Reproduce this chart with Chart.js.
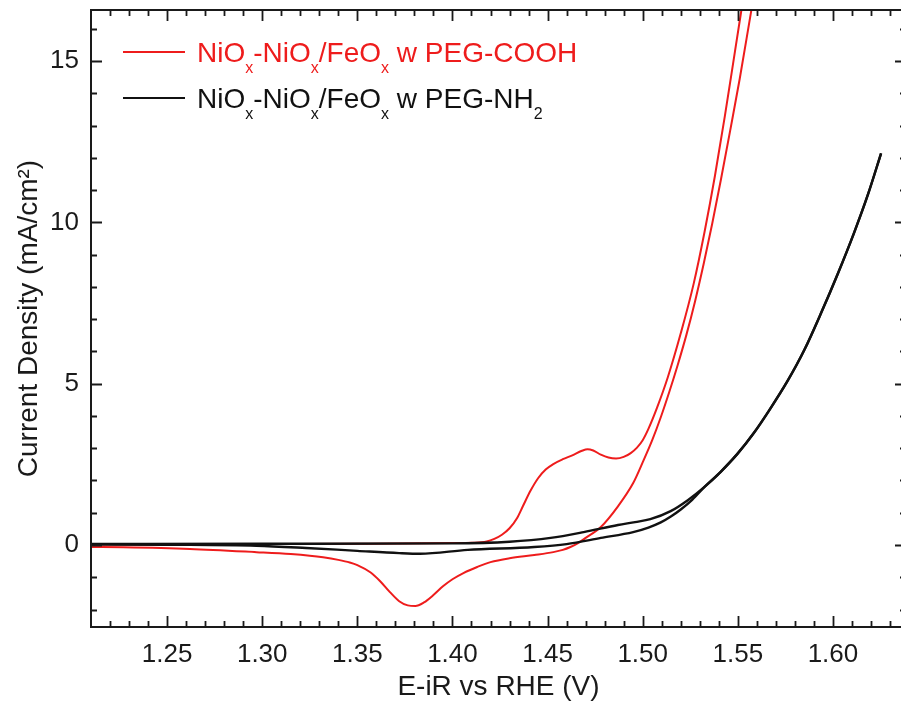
<!DOCTYPE html>
<html>
<head>
<meta charset="utf-8">
<script src="https://cdn.jsdelivr.net/npm/chart.js@4.4.1/dist/chart.umd.min.js"></script>
<style>
  html, body { margin: 0; padding: 0; background: #fff; overflow: hidden; width: 901px; height: 704px; }
  canvas { display: block; }
</style>
</head>
<body>
<canvas id="cv" width="907" height="704"></canvas>
<script>
// Cyclic voltammograms: potential E-iR (V vs RHE) and current density (mA/cm²)

// NiOx-NiOx/FeOx with PEG-COOH, anodic sweep
const coohForwardE = [1.210, 1.250, 1.300, 1.350, 1.400, 1.410, 1.418, 1.422, 1.426, 1.430, 1.434, 1.437, 1.441, 1.445, 1.449, 1.453, 1.458, 1.463, 1.468, 1.471, 1.474, 1.478, 1.482, 1.486, 1.490, 1.4937, 1.497, 1.500, 1.503, 1.5075, 1.5132, 1.520, 1.5268, 1.5325, 1.5380, 1.5432, 1.5485, 1.5530];
const coohForwardJ = [0.02, 0.02, 0.03, 0.04, 0.06, 0.07, 0.11, 0.19, 0.32, 0.52, 0.84, 1.20, 1.68, 2.07, 2.34, 2.51, 2.66, 2.78, 2.92, 2.97, 2.93, 2.80, 2.71, 2.68, 2.73, 2.85, 3.02, 3.25, 3.60, 4.25, 5.20, 6.56, 8.10, 9.70, 11.45, 13.30, 15.30, 17.00];
// NiOx-NiOx/FeOx with PEG-COOH, cathodic sweep
const coohReverseE = [1.5595, 1.5568, 1.5510, 1.5460, 1.5412, 1.5365, 1.5320, 1.5275, 1.5230, 1.5184, 1.5140, 1.5095, 1.5050, 1.5005, 1.495, 1.487, 1.478, 1.470, 1.466, 1.462, 1.458, 1.453, 1.443, 1.430, 1.420, 1.413, 1.406, 1.400, 1.395, 1.390, 1.385, 1.3805, 1.3765, 1.372, 1.367, 1.362, 1.357, 1.350, 1.346, 1.340, 1.332, 1.325, 1.315, 1.297, 1.262, 1.227, 1.210];
const coohReverseJ = [17.40, 16.47, 14.45, 12.85, 11.35, 9.95, 8.70, 7.55, 6.52, 5.58, 4.75, 3.96, 3.25, 2.63, 1.92, 1.20, 0.56, 0.22, 0.06, -0.06, -0.15, -0.22, -0.31, -0.41, -0.53, -0.68, -0.86, -1.06, -1.28, -1.55, -1.78, -1.89, -1.87, -1.74, -1.45, -1.12, -0.85, -0.62, -0.54, -0.46, -0.38, -0.33, -0.28, -0.22, -0.12, -0.07, -0.06];

// NiOx-NiOx/FeOx with PEG-NH2, anodic sweep
const nh2ForwardE = [1.210, 1.300, 1.400, 1.430, 1.4516, 1.469, 1.487, 1.496, 1.504, 1.5147, 1.5237, 1.5325, 1.541, 1.550, 1.5584, 1.567, 1.5763, 1.585, 1.5937, 1.6025, 1.611, 1.6185, 1.6253];
const nh2ForwardJ = [0.03, 0.04, 0.05, 0.10, 0.22, 0.40, 0.62, 0.71, 0.80, 1.05, 1.39, 1.80, 2.27, 2.84, 3.47, 4.22, 5.10, 6.05, 7.18, 8.40, 9.66, 10.88, 12.14];
// NiOx-NiOx/FeOx with PEG-NH2, cathodic sweep
const nh2ReverseE = [1.6253, 1.6185, 1.611, 1.6025, 1.5937, 1.585, 1.5763, 1.567, 1.5584, 1.550, 1.541, 1.5325, 1.526, 1.520, 1.515, 1.5095, 1.503, 1.495, 1.478, 1.460, 1.443, 1.408, 1.383, 1.372, 1.350, 1.323, 1.297, 1.250, 1.210];
const nh2ReverseJ = [12.14, 10.88, 9.66, 8.40, 7.18, 6.05, 5.10, 4.22, 3.47, 2.84, 2.27, 1.80, 1.40, 1.10, 0.89, 0.70, 0.54, 0.40, 0.22, 0.03, -0.06, -0.15, -0.27, -0.25, -0.18, -0.09, -0.02, 0.01, 0.02];

// Legend labels ("_" marks a one-character subscript)
const seriesLabels = ['NiO_x-NiO_x/FeO_x w PEG-COOH', 'NiO_x-NiO_x/FeO_x w PEG-NH_2'];
const seriesColors = ['#ee1c1c', '#111111'];

// Axis ticks
const xTickValues = [1.25, 1.30, 1.35, 1.40, 1.45, 1.50, 1.55, 1.60];
const yTickValues = [0, 5, 10, 15];
const xMinorStep = 0.01;
const yMinorStep = 1;
const xRange = [1.21, 1.6384];
const yRange = [-2.54, 16.58];

const FONT = "'Liberation Sans', Arial, sans-serif";
const TEXT = '#1a1a1a';

// Points in ascending potential order so the monotone spline can follow each sweep
function toPoints(eArr, jArr) {
  const pts = eArr.map((e, i) => ({ x: e, y: jArr[i] }));
  return pts.sort((a, b) => a.x - b.x);
}

function sweep(label, e, j, color, width, order) {
  return {
    label,
    data: toPoints(e, j),
    borderColor: color,
    borderWidth: width,
    pointRadius: 0,
    cubicInterpolationMode: 'monotone',
    fill: false,
    order
  };
}

// Boxed frame with inward major/minor ticks on all four sides
const axisFrame = {
  id: 'axisFrame',
  afterDatasetsDraw(chart) {
    const { ctx, chartArea, scales } = chart;
    const { left, right, top, bottom } = chartArea;
    ctx.save();
    ctx.strokeStyle = TEXT;
    ctx.lineWidth = 2;
    ctx.strokeRect(left, top, right - left, bottom - top);
    ctx.lineWidth = 1.8;
    const majLen = 11, minLen = 6;
    const isMajor = (v, list) => list.some(m => Math.abs(m - v) < 1e-6);
    ctx.beginPath();
    const xs = scales.x;
    for (let k = Math.ceil(xs.min / xMinorStep + 1e-6); k * xMinorStep < xs.max - 1e-6; k++) {
      const v = +(k * xMinorStep).toFixed(4);
      const px = Math.round(xs.getPixelForValue(v)) + 0.5;
      const len = isMajor(v, xTickValues) ? majLen : minLen;
      ctx.moveTo(px, bottom); ctx.lineTo(px, bottom - len);
      ctx.moveTo(px, top); ctx.lineTo(px, top + len);
    }
    const ys = scales.y;
    for (let k = Math.ceil(ys.min / yMinorStep + 1e-6); k * yMinorStep < ys.max - 1e-6; k++) {
      const v = k * yMinorStep;
      const py = Math.round(ys.getPixelForValue(v)) + 0.5;
      const len = isMajor(v, yTickValues) ? majLen : minLen;
      ctx.moveTo(left, py); ctx.lineTo(left + len, py);
      ctx.moveTo(right, py); ctx.lineTo(right - len, py);
    }
    ctx.stroke();
    ctx.restore();
  }
};

// Legend with subscripted chemical formulas
const sweepLegend = {
  id: 'sweepLegend',
  afterDatasetsDraw(chart) {
    const { ctx, chartArea } = chart;
    const mainFont = '28px ' + FONT;
    const subFont = '16px ' + FONT;
    ctx.save();
    seriesLabels.forEach((label, i) => {
      const color = seriesColors[i];
      const lineY = chartArea.top + 42 + i * 46;
      const x0 = chartArea.left + 32;
      ctx.strokeStyle = color;
      ctx.lineWidth = 2;
      ctx.beginPath();
      ctx.moveTo(x0, lineY);
      ctx.lineTo(x0 + 62, lineY);
      ctx.stroke();
      let x = x0 + 74;
      const baseY = lineY + 10;
      ctx.fillStyle = color;
      ctx.textBaseline = 'alphabetic';
      ctx.textAlign = 'left';
      let k = 0;
      while (k < label.length) {
        if (label[k] === '_') {
          ctx.font = subFont;
          ctx.fillText(label[k + 1], x, baseY + 11);
          x += ctx.measureText(label[k + 1]).width;
          k += 2;
        } else {
          let j = label.indexOf('_', k);
          if (j < 0) j = label.length;
          const seg = label.slice(k, j);
          ctx.font = mainFont;
          ctx.fillText(seg, x, baseY);
          x += ctx.measureText(seg).width;
          k = j;
        }
      }
    });
    ctx.restore();
  }
};

new Chart(document.getElementById('cv'), {
  type: 'line',
  data: {
    datasets: [
      sweep(seriesLabels[0], coohForwardE, coohForwardJ, seriesColors[0], 2, 2),
      sweep(seriesLabels[0], coohReverseE, coohReverseJ, seriesColors[0], 2, 3),
      sweep(seriesLabels[1], nh2ForwardE, nh2ForwardJ, seriesColors[1], 2.4, 0),
      sweep(seriesLabels[1], nh2ReverseE, nh2ReverseJ, seriesColors[1], 2.4, 1)
    ]
  },
  options: {
    responsive: false,
    animation: false,
    devicePixelRatio: 1,
    events: [],
    layout: { padding: { top: 10, right: 1, left: 0, bottom: 0 } },
    plugins: { legend: { display: false }, tooltip: { enabled: false }, title: { display: false } },
    scales: {
      x: {
        type: 'linear',
        min: xRange[0],
        max: xRange[1],
        afterFit(s) { s.height = 77; s.paddingLeft = 0; s.paddingRight = 0; },
        afterBuildTicks(s) { s.ticks = xTickValues.map(v => ({ value: v })); },
        grid: { display: false, drawTicks: false },
        border: { display: false },
        ticks: {
          autoSkip: false, maxRotation: 0, padding: 12,
          color: TEXT, font: { family: FONT, size: 26 },
          callback: v => Number(v).toFixed(2)
        },
        title: {
          display: true, text: 'E-iR vs RHE (V)', color: TEXT,
          font: { family: FONT, size: 28 }, padding: { top: 0, bottom: 0 }
        }
      },
      y: {
        type: 'linear',
        min: yRange[0],
        max: yRange[1],
        afterFit(s) { s.width = 91; s.paddingTop = 0; s.paddingBottom = 0; },
        afterBuildTicks(s) { s.ticks = yTickValues.map(v => ({ value: v })); },
        grid: { display: false, drawTicks: false },
        border: { display: false },
        ticks: {
          padding: 12, color: TEXT, font: { family: FONT, size: 26 },
          callback: v => String(v)
        },
        title: {
          display: true, text: 'Current Density (mA/cm²)', color: TEXT,
          font: { family: FONT, size: 28 }, padding: { top: 12, bottom: 0 }
        }
      }
    }
  },
  plugins: [axisFrame, sweepLegend]
});
</script>
</body>
</html>
